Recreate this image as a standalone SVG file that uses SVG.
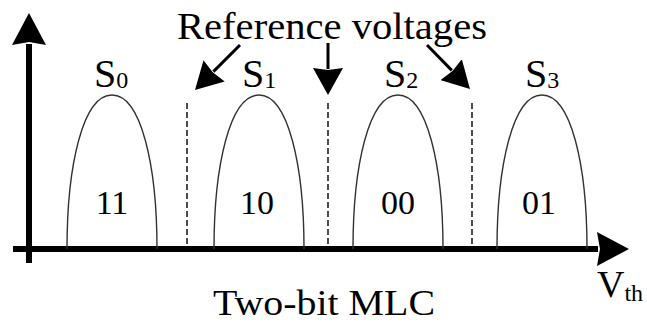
<svg xmlns="http://www.w3.org/2000/svg" width="647" height="324" viewBox="0 0 647 324">
<style>
text{font-family:'Liberation Serif','Times New Roman',Times,Tinos,'Nimbus Roman','Nimbus Roman No9 L','Noto Serif','DejaVu Serif','FreeSerif',serif;fill:#000}
.bell{fill:none;stroke:#333;stroke-width:1.4}
.dash{stroke:#000;stroke-width:1.4;stroke-dasharray:6 3}
.axis{stroke:#000;stroke-width:6;fill:none}
.ref{stroke:#000;stroke-width:3;fill:none}
</style>
<defs>
<marker id="axhead" markerUnits="userSpaceOnUse" viewBox="0 0 32 34" refX="1" refY="17" markerWidth="32" markerHeight="34" orient="auto">
<path d="M0,0 L32,17 L0,34 L3,17 z" fill="#000"/>
</marker>
<marker id="rhead" markerUnits="userSpaceOnUse" viewBox="0 0 27 30" refX="1" refY="15" markerWidth="27" markerHeight="30" orient="auto">
<path d="M0,0 L27,15 L0,30 L2,15 z" fill="#000"/>
</marker>
</defs>
<g id="connectors">
<path class="axis" d="M29,263 L29,44" marker-end="url(#axhead)"/>
<path class="axis" d="M13,249 L598,249" marker-end="url(#axhead)"/>
<path class="ref" d="M240,45 L213.4,71.6" marker-end="url(#rhead)"/>
<path class="ref" d="M328,43 L328,69" marker-end="url(#rhead)"/>
<path class="ref" d="M427,45 L451.8,70.4" marker-end="url(#rhead)"/>
<line class="dash" x1="187" y1="103" x2="187" y2="246"/>
<line class="dash" x1="328" y1="103" x2="328" y2="246"/>
<line class="dash" x1="472" y1="103" x2="472" y2="246"/>
</g>
<g id="state0">
<path class="bell" d="M67,249 C67,165 83,95 112,95 C141,95 157,165 157,249"/>
<text x="94" y="87" font-size="40">S<tspan font-size="24" dy="1">0</tspan></text>
<text x="112" y="214" font-size="34" text-anchor="middle">11</text>
</g>
<g id="state1">
<path class="bell" d="M214,249 C214,165 230,95 259,95 C288,95 304,165 304,249"/>
<text x="242" y="87" font-size="40">S<tspan font-size="24" dy="1">1</tspan></text>
<text x="257" y="214" font-size="34" text-anchor="middle">10</text>
</g>
<g id="state2">
<path class="bell" d="M353,249 C353,165 369,95 398,95 C427,95 443,165 443,249"/>
<text x="384" y="87" font-size="40">S<tspan font-size="24" dy="1">2</tspan></text>
<text x="398" y="214" font-size="34" text-anchor="middle">00</text>
</g>
<g id="state3">
<path class="bell" d="M497,249 C497,165 513,95 542,95 C571,95 587,165 587,249"/>
<text x="525" y="87" font-size="40">S<tspan font-size="24" dy="1">3</tspan></text>
<text x="539" y="214" font-size="34" text-anchor="middle">01</text>
</g>
<g id="labels">
<text x="177" y="39" font-size="38" textLength="310" lengthAdjust="spacingAndGlyphs">Reference voltages</text>
<text x="213" y="315" font-size="36" textLength="222" lengthAdjust="spacingAndGlyphs">Two-bit MLC</text>
<text x="597" y="297" font-size="38">V<tspan font-size="24" dy="4">th</tspan></text>
</g>
</svg>
